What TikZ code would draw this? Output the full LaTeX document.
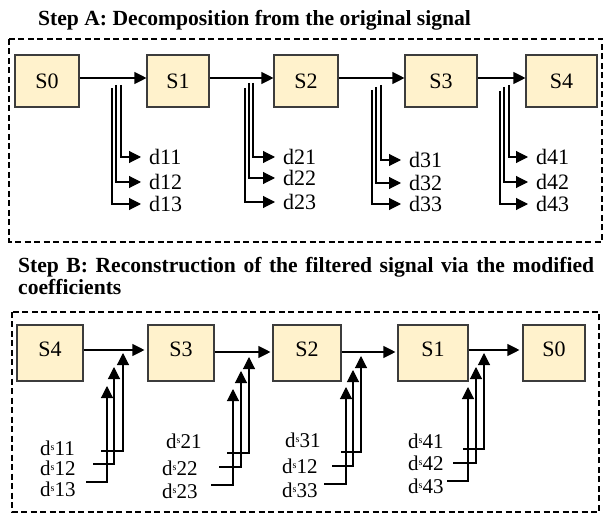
\documentclass[tikz,border=0pt]{standalone}
\usepackage{fontspec}
\setmainfont{Liberation Serif}
\usetikzlibrary{arrows.meta}
\definecolor{boxfill}{HTML}{FFF2CC}
\definecolor{boxline}{HTML}{3C3C3C}
\newcommand{\bigtxt}{\fontsize{22}{26}\selectfont}
\newcommand{\coeftxt}{\fontsize{21}{24}\selectfont}
\newcommand{\headtxt}{\fontsize{21.6}{26}\selectfont}
\newcommand{\sds}{d\raisebox{5pt}{\fontsize{10}{10}\selectfont s}}
\begin{document}
\begin{tikzpicture}[x=1pt,y=-1pt,
  stage/.style={rectangle,draw=boxline,fill=boxfill,line width=1.1pt,
    inner sep=0pt,minimum height=52pt,font=\bigtxt},
  stageB/.style={stage,minimum height=56pt,text height=14pt,text depth=8pt},
  flow/.style={line width=1.1pt,-{Triangle[length=12pt,width=12pt]}},
  frame/.style={line width=1.2pt,dash pattern=on 6pt off 3.5pt},
  dlbl/.style={anchor=west,inner xsep=8pt,inner ysep=0pt,font=\bigtxt},
  slbl/.style={anchor=base west,inner sep=0pt,font=\coeftxt,text height=13pt,text depth=0pt},
  title/.style={anchor=base west,inner sep=0pt,font=\headtxt\bfseries}]
\useasboundingbox (0,0) rectangle (603,513);

% ---------- Step A: decomposition ----------
\node[title] (titleA) at (38,26) {Step A: Decomposition from the original signal};
\draw[frame] (9,39) rectangle (602,242);

\node[stage,minimum width=64pt] (a0) at (47,81)    {S0};
\node[stage,minimum width=62pt] (a1) at (178,81)   {S1};
\node[stage,minimum width=64pt] (a2) at (306,81)   {S2};
\node[stage,minimum width=72pt] (a3) at (441,81)   {S3};
\node[stage,minimum width=71pt] (a4) at (561.5,81) {S4};

\draw[flow] ([yshift=3pt]a0.east) -- ([yshift=3pt]a1.west);
\draw[flow] ([yshift=3pt]a1.east) -- ([yshift=3pt]a2.west);
\draw[flow] ([yshift=3pt]a2.east) -- ([yshift=3pt]a3.west);
\draw[flow] ([yshift=3pt]a3.east) -- ([yshift=3pt]a4.west);

% detail branches: level / tip x / branch x (1,2,3) / branch tops / label rows
\foreach \g/\tip/\xa/\xb/\xc/\ta/\tb/\tc/\ya/\yb/\yc in {
    1/141/121/116/112/85/85/88/157/182/204,
    2/275/253/249/245/83/83/88/157/178/202,
    3/401/381/376/372/85/87/90/160/183/204,
    4/528/509/504/500/85/87/91/157/182/204}{
  \coordinate (ta\g1) at (\xa,\ta);
  \coordinate (ta\g2) at (\xb,\tb);
  \coordinate (ta\g3) at (\xc,\tc);
  \node[dlbl] (d\g1) at (\tip,\ya) {d\g1};
  \node[dlbl] (d\g2) at (\tip,\yb) {d\g2};
  \node[dlbl] (d\g3) at (\tip,\yc) {d\g3};
  \draw[flow] (ta\g1) |- (d\g1.west);
  \draw[flow] (ta\g2) |- (d\g2.west);
  \draw[flow] (ta\g3) |- (d\g3.west);
}

% ---------- Step B: reconstruction ----------
\node[title] (titleB1) at (18,273)
  {\frenchspacing\hbox to 576pt{\spaceskip=5pt plus 1fil Step B: Reconstruction of the filtered signal via the modified}};
\node[title] (titleB2) at (18,295) {coefficients};
\draw[frame] (12,312) rectangle (599,512);

\node[stageB,minimum width=66pt] (b4) at (50,353)  {S4};
\node[stageB,minimum width=66pt] (b3) at (181,353) {S3};
\node[stageB,minimum width=68pt] (b2) at (307,353) {S2};
\node[stageB,minimum width=70pt] (b1) at (433,353) {S1};
\node[stageB,minimum width=62pt] (b0) at (554,353) {S0};

\draw[flow,shorten >=3pt] ([yshift=3pt]b4.east) -- ([yshift=3pt]b3.west);
\draw[flow,shorten >=2pt] ([yshift=1pt]b3.east) -- ([yshift=1pt]b2.west);
\draw[flow,shorten >=2pt] ([yshift=1pt]b2.east) -- ([yshift=1pt]b1.west);
\draw[flow,shorten >=3pt] ([yshift=3pt]b1.east) -- ([yshift=3pt]b0.west);

% modified coefficients feeding back: branch x / tip y / feed row y / feed start x
\foreach \g/\xa/\xb/\xc/\pa/\pb/\pc/\ya/\yb/\yc/\sa/\sb/\sc in {
    1/123/114/107/353/367/386/451/464/482/101/93/86,
    2/249/241/233/357/371/389/453/467/485/227/219/211,
    3/361/353/346/356/370/387/452/466/484/341/332/324,
    4/484/476/468/353/367/387/449/463/481/463/453/447}{
  \coordinate (hb\g1) at (\xa,\pa);
  \coordinate (hb\g2) at (\xb,\pb);
  \coordinate (hb\g3) at (\xc,\pc);
  \coordinate (sb\g1) at (\sa,\ya);
  \coordinate (sb\g2) at (\sb,\yb);
  \coordinate (sb\g3) at (\sc,\yc);
  \draw[flow] (sb\g1) -| (hb\g1);
  \draw[flow] (sb\g2) -| (hb\g2);
  \draw[flow] (sb\g3) -| (hb\g3);
}

\node[slbl] (e11) at (40,455)  {\sds11};
\node[slbl] (e12) at (40,475)  {\sds12};
\node[slbl] (e13) at (40,496)  {\sds13};
\node[slbl] (e21) at (166,448) {\sds21};
\node[slbl] (e22) at (162,475) {\sds22};
\node[slbl] (e23) at (162,498) {\sds23};
\node[slbl] (e31) at (285,447) {\sds31};
\node[slbl] (e32) at (282,473) {\sds12};
\node[slbl] (e33) at (282,497) {\sds33};
\node[slbl] (e41) at (408,448) {\sds41};
\node[slbl] (e42) at (408,470) {\sds42};
\node[slbl] (e43) at (408,493) {\sds43};
\end{tikzpicture}
\end{document}
